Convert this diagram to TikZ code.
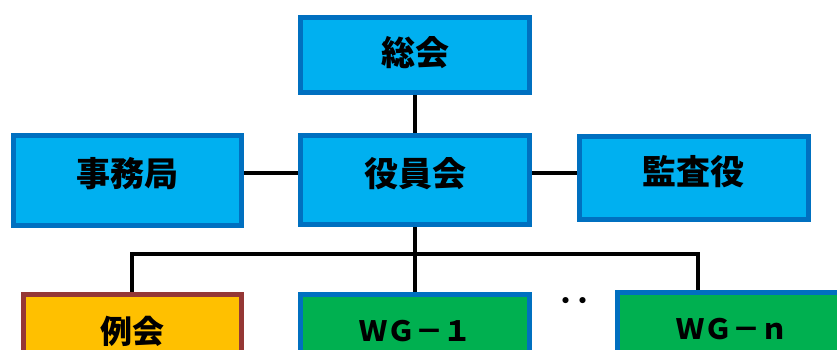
\documentclass[tikz,border=0pt]{standalone}
\usepackage{fontspec}
\newfontfamily\jpfont{Noto Sans CJK JP}
\usetikzlibrary{positioning}
\definecolor{boxfill}{HTML}{00B0F0}
\definecolor{boxline}{HTML}{0070C0}
\definecolor{wgfill}{HTML}{00B050}
\definecolor{meetfill}{HTML}{FFC000}
\definecolor{meetline}{HTML}{953735}
\tikzset{
every node/.style={inner sep=0pt},
style1/.style= {rectangle, draw=boxline, line width=5pt, fill=boxfill, minimum width=229pt, align=center, font=\jpfont\fontsize{34pt}{36pt}\selectfont\bfseries},
style2/.style= {style1, text height=18pt, text depth=6pt},
style3/.style= {rectangle, draw=boxline, line width=5pt, fill=wgfill, minimum width=229pt, minimum height=74pt, align=center, font=\jpfont\fontsize{28pt}{30pt}\selectfont\bfseries},
style4/.style= {rectangle, draw=meetline, line width=5pt, fill=meetfill, minimum width=218pt, minimum height=74pt, align=center, font=\jpfont\fontsize{32pt}{34pt}\selectfont\bfseries},
conn/.style= {draw, line width=4pt}
}

\begin{document}
\begin{tikzpicture}[x=1pt, y=-1pt]
\useasboundingbox (0,0) rectangle (837,350);
\clip (0,0) rectangle (837,350);

\node[style1, minimum height=75pt, text height=26pt, text depth=4pt] (sokai) at (415,55) {総会};
\node[style2, minimum height=89pt] (yakuin) at (415,180) {役員会};
\node[style2, minimum height=90pt, minimum width=228pt] (jimu) at (127.5,180) {事務局};
\node[style2, minimum height=83pt] (kansa) at (693.5,178) {監査役};

\node[style4] (reikai) at (132,331) {例会};
\node[style3] (wg1) at (415,331) {ＷＧ－１};
\node[style3] (wgn) at (732,329.5) {ＷＧ－ｎ};
\node[font=\jpfont\fontsize{34pt}{36pt}\selectfont\bfseries] (dots) at (574,306) {‥};

\draw[conn] (sokai) -- (yakuin);
\draw[conn] ([yshift=7pt]jimu.east) -- ([yshift=7pt]yakuin.west);
\draw[conn] ([yshift=7pt]yakuin.east) -- ([yshift=5pt]kansa.west);
\draw[conn] (yakuin) -- (wg1);
\coordinate (bus) at (415,254);
\draw[conn] (reikai.north) |- (bus) -| ([xshift=-34pt]wgn.north);
\end{tikzpicture}
\end{document}
